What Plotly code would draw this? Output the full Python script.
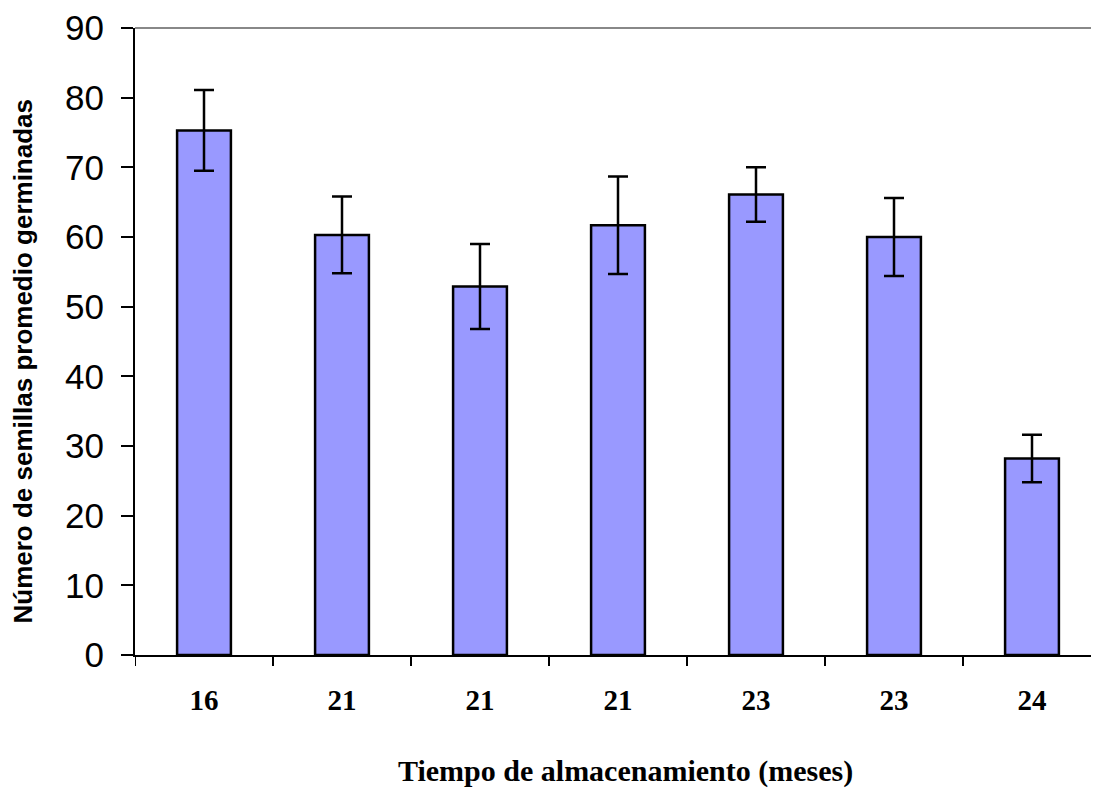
import plotly.graph_objects as go

categories = ["16", "21", "21", "21", "23", "23", "24"]
means = [75.3, 60.3, 52.9, 61.7, 66.1, 60.0, 28.2]
errors = [5.8, 5.5, 6.1, 7.0, 3.9, 5.6, 3.4]
y_ticks = [0, 10, 20, 30, 40, 50, 60, 70, 80, 90]

x_pos = list(range(len(categories)))

fig = go.Figure()
fig.add_trace(go.Bar(
    x=x_pos, y=means,
    width=0.39,
    marker=dict(color="#9999FF", line=dict(color="black", width=2.5)),
    error_y=dict(type="data", array=errors, visible=True, color="black",
                 thickness=2.5, width=10),
    showlegend=False,
))

# page body has an 8px margin, so the figure is sized to fill the rest
fig.update_layout(
    width=1093, height=782,
    margin=dict(l=127, r=0, t=20, b=135, autoexpand=False),
    plot_bgcolor="white", paper_bgcolor="white",
    xaxis=dict(
        tickmode="array", tickvals=x_pos, ticktext=categories,
        range=[-0.5, 6.5],
        showline=True, linecolor="black", linewidth=2,
        showgrid=False, zeroline=False,
        ticks="",
        tickfont=dict(family="Liberation Serif", size=29, color="black", weight="bold"),
        ticklabelstandoff=18,
    ),
    yaxis=dict(
        range=[0, 90], tickmode="array", tickvals=y_ticks,
        showline=True, linecolor="black", linewidth=2,
        showgrid=False, zeroline=False,
        ticks="outside", ticklen=12, tickwidth=2, tickcolor="black",
        tickfont=dict(family="Liberation Sans", size=35, color="black"),
        ticklabelstandoff=10,
    ),
    annotations=[
        dict(text="<b>Tiempo de almacenamiento (meses)</b>", xref="paper", yref="paper",
             x=0.5, y=0, xanchor="center", yanchor="middle", yshift=-116, xshift=7,
             showarrow=False, font=dict(family="Liberation Serif", size=30, color="black")),
        dict(text="<b>Número de semillas promedio germinadas</b>", xref="paper", yref="paper",
             x=0, y=0.5, xanchor="center", yanchor="middle", xshift=-113, yshift=-20,
             textangle=-90, showarrow=False,
             font=dict(family="Liberation Sans", size=26, color="black")),
    ],
    shapes=[
        dict(type="line", xref="paper", yref="paper", x0=0, x1=1, y0=1, y1=1,
             line=dict(color="#888888", width=2)),
    ],
)

# boundary ticks on the x axis (between categories), drawn as pixel-sized shapes
for b in range(len(categories) + 1):
    fig.add_shape(type="line", xref="x", yref="paper",
                  ysizemode="pixel", yanchor=0, x0=b - 0.5, x1=b - 0.5, y0=0, y1=-11,
                  line=dict(color="black", width=2))

fig.write_html("out.html")
